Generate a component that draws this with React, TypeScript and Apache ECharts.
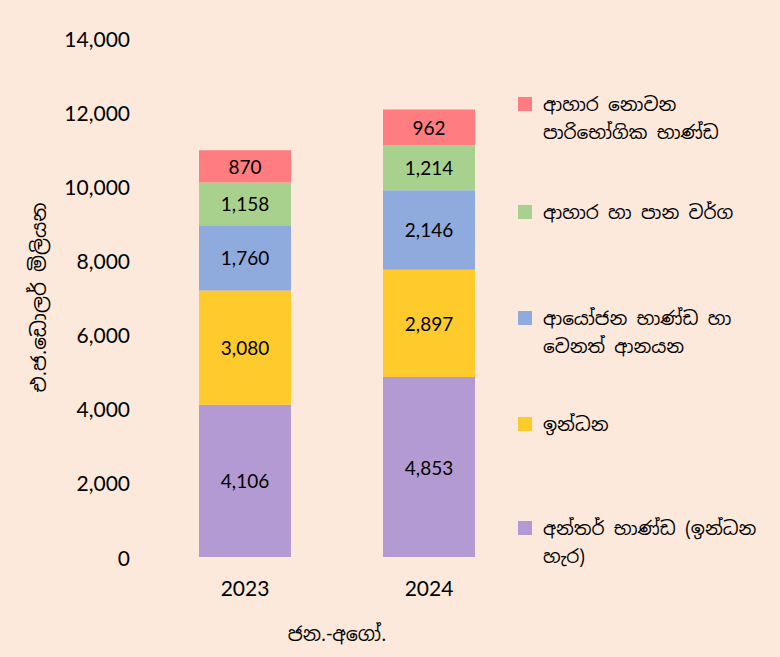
import React, { useEffect, useRef } from "react";
import * as echarts from "echarts";

const categories = ["2023", "2024"];
const intermediateGoods = [4106, 4853];
const fuel = [3080, 2897];
const investmentGoods = [1760, 2146];
const foodBeverages = [1158, 1214];
const nonFoodConsumer = [870, 962];

const seriesNames = [
  "අන්තර් භාණ්ඩ (ඉන්ධන\nහැර)",
  "ඉන්ධන",
  "ආයෝජන භාණ්ඩ හා\nවෙනත් ආනයන",
  "ආහාර හා පාන වර්ග",
  "ආහාර නොවන\nපාරිභෝගික භාණ්ඩ",
];
const seriesData = [intermediateGoods, fuel, investmentGoods, foodBeverages, nonFoodConsumer];
const seriesColors = ["#B39AD2", "#FFCA2B", "#8FAADC", "#A9D18E", "#FF7C80"];
const legendCentersY = [528, 424, 318, 212, 104];

const yTicks = { min: 0, max: 14000, interval: 2000 };

const numFont = "Lato, 'Open Sans', 'Liberation Sans', sans-serif";
const sinFont = "'Noto Sans Sinhala', 'Iskoola Pota', 'Noto Sans', sans-serif";

export default function App() {
  const ref = useRef<HTMLDivElement>(null);
  useEffect(() => {
    if (!ref.current) return;
    const chart = echarts.init(ref.current, undefined, { renderer: "svg" });
    const lh = 28;
    const legends = seriesNames.map((name, i) => {
      const twoLine = name.includes("\n");
      return {
        data: [name],
        left: 518,
        top: twoLine ? legendCentersY[i] - 42 : legendCentersY[i] - 14,
        orient: "vertical",
        padding: 0,
        itemWidth: 14,
        itemHeight: 14,
        itemGap: 0,
        icon: "rect",
        selectedMode: false,
        formatter: (n: string) => (n.includes("\n") ? " \n" + n : n),
        textStyle: {
          fontFamily: sinFont,
          fontSize: 18.5,
          color: "#000",
          lineHeight: lh,
          padding: [0, 0, 0, 6],
        },
      };
    });
    chart.setOption({
      animation: false,
      backgroundColor: "#FDE9DB",
      grid: { left: 153, right: 259, top: 38, bottom: 100 },
      legend: legends,
      xAxis: {
        type: "category",
        data: categories,
        name: "ජන.-අගෝ.",
        nameLocation: "middle",
        nameGap: 68,
        nameTextStyle: { fontFamily: sinFont, fontSize: 19, color: "#000" },
        axisLine: { show: false },
        axisTick: { show: false },
        axisLabel: { fontFamily: numFont, fontSize: 21, color: "#000", margin: 20 },
      },
      yAxis: {
        type: "value",
        min: yTicks.min,
        max: yTicks.max,
        interval: yTicks.interval,
        name: "එ.ජ.ඩොලර් මිලියන",
        nameLocation: "middle",
        nameGap: 104,
        nameTextStyle: { fontFamily: sinFont, fontSize: 20, color: "#000" },
        splitLine: { show: false },
        axisLine: { show: false },
        axisTick: { show: false },
        axisLabel: {
          fontFamily: numFont,
          fontSize: 21,
          color: "#000",
          margin: 23,
          formatter: (v: number) => v.toLocaleString("en-US"),
        },
      },
      series: seriesNames.map((name, i) => ({
        name,
        type: "bar",
        stack: "total",
        barWidth: "50%",
        data: seriesData[i],
        itemStyle: { color: seriesColors[i] },
        label: {
          show: true,
          position: "inside",
          fontFamily: numFont,
          fontSize: 19,
          color: "#000",
          formatter: (p: any) => Number(p.value).toLocaleString("en-US"),
        },
      })),
    });
    return () => chart.dispose();
  }, []);
  return (
    <div
      ref={ref}
      style={{ position: "fixed", left: 0, top: 0, width: 780, height: 657 }}
    />
  );
}
